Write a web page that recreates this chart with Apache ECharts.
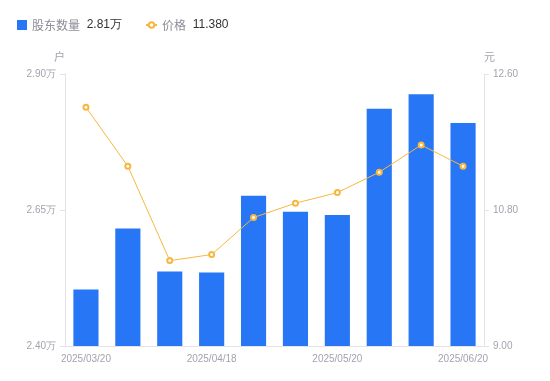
<!DOCTYPE html>
<html><head><meta charset="utf-8">
<script src="https://cdn.jsdelivr.net/npm/echarts@6/dist/echarts.min.js"></script>
<style>html,body{margin:0;padding:0;background:#fff}#c{width:550px;height:381px}</style>
</head><body><div id="c"></div>
<script>
const categories = ['2025/03/20','2025/03/31','2025/04/10','2025/04/18','2025/04/30','2025/05/09','2025/05/20','2025/05/30','2025/06/10','2025/06/20'];
const holders = [2.504, 2.616, 2.537, 2.535, 2.676, 2.647, 2.641, 2.836, 2.863, 2.810];
const prices = [12.16, 11.38, 10.13, 10.21, 10.70, 10.89, 11.03, 11.30, 11.66, 11.38];
const legendValues = {'股东数量': '2.81万', '价格': '11.380'};

const chart = echarts.init(document.getElementById('c'));
const labelColor = '#a3a3b0';
const axisLineColor = '#e3e3e8';
const legendText = {
  rich: {
    n: {color: '#8c8c99', fontSize: 12, fontFamily: 'Noto Sans CJK SC'},
    v: {color: '#333', fontSize: 12, fontFamily: 'Liberation Sans'}
  }
};
const legendFmt = n => `{n|${n}}  {v|${legendValues[n]}}`;
chart.setOption({
  animation: false,
  legend: [{
    left: 12, top: 14, itemWidth: 10, itemHeight: 10,
    data: [{name: '股东数量', icon: 'rect'}],
    formatter: legendFmt, textStyle: legendText
  }, {
    left: 140, top: 14, itemWidth: 11, itemHeight: 7,
    data: ['价格'],
    formatter: legendFmt, textStyle: legendText
  }],
  grid: {left: 65, right: 66, top: 74, bottom: 35},
  xAxis: {
    type: 'category', data: categories,
    axisLine: {lineStyle: {color: axisLineColor}},
    axisTick: {show: false},
    axisLabel: {interval: 2, color: labelColor, fontSize: 10, fontFamily: 'Liberation Sans', margin: 8}
  },
  yAxis: [{
    type: 'value', min: 2.40, max: 2.90, interval: 0.25,
    name: '户', nameGap: 12,
    nameTextStyle: {color: labelColor, fontSize: 11, align: 'right', fontFamily: 'Noto Sans CJK SC'},
    axisLine: {show: true, lineStyle: {color: axisLineColor}},
    axisTick: {show: true, length: 5, lineStyle: {color: axisLineColor}},
    splitLine: {show: false},
    axisLabel: {color: labelColor, fontSize: 10, fontFamily: 'Liberation Sans', margin: 9,
      formatter: v => v.toFixed(2) + '万'}
  }, {
    type: 'value', min: 9, max: 12.6, interval: 1.8,
    name: '元', nameGap: 12,
    nameTextStyle: {color: labelColor, fontSize: 11, align: 'left', fontFamily: 'Noto Sans CJK SC'},
    axisLine: {show: true, lineStyle: {color: axisLineColor}},
    axisTick: {show: true, length: 5, lineStyle: {color: axisLineColor}},
    splitLine: {show: false},
    axisLabel: {color: labelColor, fontSize: 10, fontFamily: 'Liberation Sans', margin: 9,
      formatter: v => v.toFixed(2)}
  }],
  series: [{
    name: '股东数量', type: 'bar', data: holders, barWidth: '60%',
    itemStyle: {color: '#2676f5'}
  }, {
    name: '价格', type: 'line', yAxisIndex: 1, data: prices,
    symbol: 'emptyCircle', symbolSize: 5,
    lineStyle: {color: '#f7b73f', width: 1},
    itemStyle: {color: '#f7b73f', borderWidth: 2}
  }]
});
</script></body></html>
